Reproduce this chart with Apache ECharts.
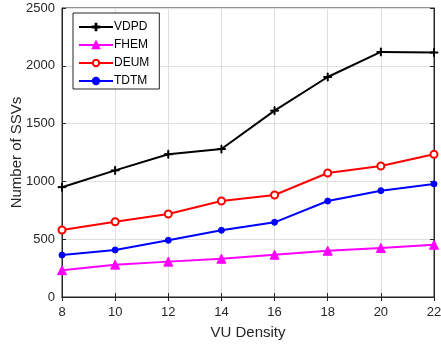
<!DOCTYPE html>
<html>
<head>
<meta charset="utf-8">
<script src="https://cdn.jsdelivr.net/npm/echarts@6/dist/echarts.min.js"></script>
<style>
  html, body { margin: 0; padding: 0; background: #fff; }
  #chart { width: 441px; height: 346px; }
</style>
</head>
<body>
<div id="chart"></div>
<script>
const density = [8, 10, 12, 14, 16, 18, 20, 22];
const vdpd = [950, 1095, 1235, 1280, 1612, 1903, 2120, 2115];
const fhem = [232, 280, 306, 331, 366, 400, 424, 452];
const deum = [580, 651, 718, 830, 882, 1073, 1133, 1234];
const tdtm = [363, 407, 490, 577, 646, 830, 920, 978];

const plusPath = 'path://M0,4.4L10,4.4L10,5.6L0,5.6ZM4.4,0L5.6,0L5.6,10L4.4,10Z';
const textColor = '#262626';
const font = 'Liberation Sans, Arial, sans-serif';

const pairs = vals => density.map((d, i) => [d, vals[i]]);

const chart = echarts.init(document.getElementById('chart'));

const seriesDefs = [
  { name: 'VDPD', data: vdpd, color: '#000000', symbol: plusPath, size: 8, fill: '#000000', border: 1 },
  { name: 'FHEM', data: fhem, color: '#ff00ff', symbol: 'triangle', size: 9, fill: '#ff00ff', border: 1 },
  { name: 'DEUM', data: deum, color: '#ff0000', symbol: 'circle', size: 7, fill: '#ffffff', border: 2 },
  { name: 'TDTM', data: tdtm, color: '#0000ff', symbol: 'circle', size: 6, fill: '#0000ff', border: 1 }
];

const option = {
  animation: false,
  backgroundColor: '#ffffff',
  textStyle: { fontFamily: font, color: textColor },
  grid: {
    left: 62, right: 7, top: 8, bottom: 49,
    outerBoundsMode: 'none',
    containLabel: false,
    show: true, borderColor: textColor, borderWidth: 1
  },
  legend: {
    left: 73, top: 13,
    orient: 'vertical',
    itemWidth: 34, itemHeight: 8,
    itemGap: 6,
    padding: [8, 10, 2, 5],
    borderColor: textColor, borderWidth: 1,
    backgroundColor: '#ffffff',
    textStyle: { fontSize: 12, color: '#000', fontFamily: font, padding: [0, 0, 0, -4] },
    data: seriesDefs.map(s => s.name)
  },
  xAxis: [{
    type: 'value', min: 8, max: 22, interval: 2,
    name: 'VU Density', nameLocation: 'middle', nameGap: 28,
    nameMoveOverlap: false,
    nameTextStyle: { fontSize: 15, color: textColor, fontFamily: font },
    axisLine: { lineStyle: { color: textColor } },
    axisTick: { inside: true, length: 4, lineStyle: { color: textColor } },
    axisLabel: { fontSize: 13, color: textColor, margin: 9 },
    splitLine: { show: true, lineStyle: { color: '#dfdfdf' } }
  }, {
    type: 'value', min: 8, max: 22, interval: 2, position: 'top',
    axisLine: { lineStyle: { color: textColor } },
    axisTick: { inside: true, length: 4, lineStyle: { color: textColor } },
    axisLabel: { show: false }, splitLine: { show: false }
  }],
  yAxis: [{
    type: 'value', min: 0, max: 2500, interval: 500,
    name: 'Number of SSVs', nameLocation: 'middle', nameGap: 38,
    nameMoveOverlap: false,
    nameTextStyle: { fontSize: 15, color: textColor, fontFamily: font },
    axisLine: { show: true, lineStyle: { color: textColor } },
    axisTick: { show: true, inside: true, length: 4, lineStyle: { color: textColor } },
    axisLabel: { fontSize: 13, color: textColor, margin: 7, formatter: v => String(v) },
    splitLine: { show: true, lineStyle: { color: '#dfdfdf' } }
  }, {
    type: 'value', min: 0, max: 2500, interval: 500, position: 'right',
    axisLine: { show: true, lineStyle: { color: textColor } },
    axisTick: { show: true, inside: true, length: 4, lineStyle: { color: textColor } },
    axisLabel: { show: false }, splitLine: { show: false }
  }],
  series: seriesDefs.map(s => ({
    name: s.name,
    type: 'line',
    data: pairs(s.data),
    symbol: s.symbol,
    symbolSize: s.size,
    showAllSymbol: true,
    lineStyle: { color: s.color, width: 2 },
    itemStyle: { color: s.fill, borderColor: s.color, borderWidth: s.border },
    emphasis: { disabled: true }
  }))
};

chart.setOption(option);
</script>
</body>
</html>
